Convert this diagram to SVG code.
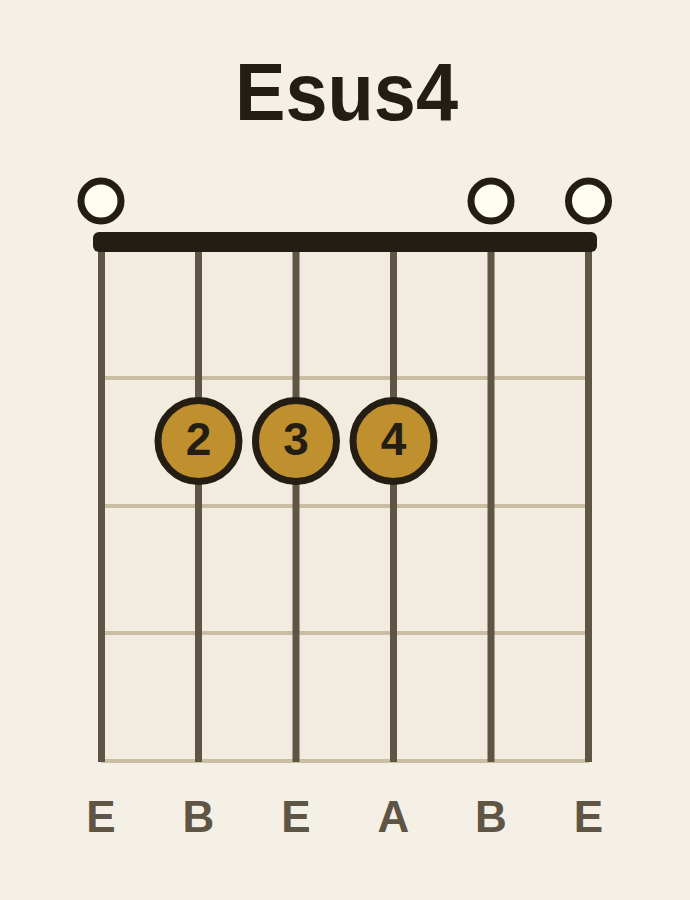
<svg xmlns="http://www.w3.org/2000/svg" width="690" height="900" viewBox="0 0 690 900">
<style>
.str{stroke:#5E5545;stroke-width:7}
.fret{stroke:#C9BDA3;stroke-width:4}
.open{fill:#FFFCF3;stroke:#231D14;stroke-width:7}
.dot{fill:#BF902D;stroke:#231D14;stroke-width:7}
.num{font-family:"Liberation Sans",Arial,sans-serif;font-weight:bold;font-size:46px;fill:#231D14;text-anchor:middle}
.lbl{font-family:"Liberation Sans",Arial,sans-serif;font-weight:bold;font-size:44px;fill:#5E5545;text-anchor:middle}
</style>
<rect width="690" height="900" fill="#F5F0E6"/>
<text x="346.5" y="120" text-anchor="middle" font-family="Liberation Sans, Arial, sans-serif" font-weight="bold" font-size="81" fill="#231D14" textLength="223" lengthAdjust="spacingAndGlyphs">Esus4</text>
<g id="fretboard">
<rect x="101" y="250" width="488" height="512" fill="#F2EBDF"/>
<line class="fret" x1="101" y1="378" x2="589" y2="378"/>
<line class="fret" x1="101" y1="506" x2="589" y2="506"/>
<line class="fret" x1="101" y1="633" x2="589" y2="633"/>
<line class="fret" x1="101" y1="761" x2="589" y2="761"/>
<line class="str" x1="101.5" y1="250" x2="101.5" y2="762"/>
<line class="str" x1="198.5" y1="250" x2="198.5" y2="762"/>
<line class="str" x1="296" y1="250" x2="296" y2="762"/>
<line class="str" x1="393.5" y1="250" x2="393.5" y2="762"/>
<line class="str" x1="491" y1="250" x2="491" y2="762"/>
<line class="str" x1="588.5" y1="250" x2="588.5" y2="762"/>
</g>
<g id="nut"><rect x="93" y="232" width="504" height="20" rx="6" fill="#231D14"/></g>
<g id="open1"><circle class="open" cx="101" cy="201" r="20"/></g>
<g id="open5"><circle class="open" cx="491" cy="201" r="20"/></g>
<g id="open6"><circle class="open" cx="588.5" cy="201" r="20"/></g>
<g id="f2"><circle class="dot" cx="198.5" cy="441" r="40.5"/><text class="num" x="198.5" y="455">2</text></g>
<g id="f3"><circle class="dot" cx="296" cy="441" r="40.5"/><text class="num" x="296" y="455">3</text></g>
<g id="f4"><circle class="dot" cx="393.5" cy="441" r="40.5"/><text class="num" x="393.5" y="455">4</text></g>
<g id="labels">
<text class="lbl" x="101" y="832">E</text>
<text class="lbl" x="198.5" y="832">B</text>
<text class="lbl" x="296" y="832">E</text>
<text class="lbl" x="393.5" y="832">A</text>
<text class="lbl" x="491" y="832">B</text>
<text class="lbl" x="588.5" y="832">E</text>
</g>
</svg>
